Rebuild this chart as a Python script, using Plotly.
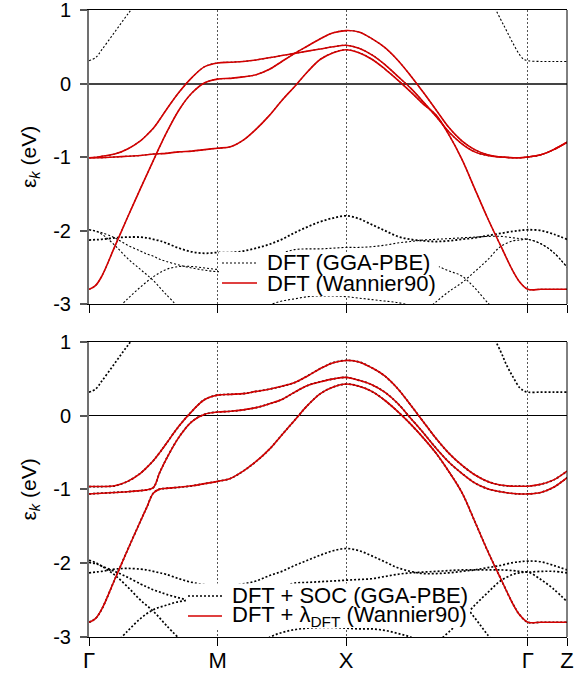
import plotly.graph_objects as go

# ---------------- data (k path coordinate, energies in eV) ----------------
K = [0.0, 0.05, 0.1, 0.2, 0.3, 0.4, 0.45, 0.5, 0.55, 0.6, 0.7, 0.8, 0.9, 1.0,
     1.1, 1.2, 1.3, 1.4, 1.5, 1.6, 1.7, 1.8, 1.9, 2.0,
     2.1, 2.2, 2.3, 2.4, 2.5, 2.6, 2.7, 2.8, 2.9, 3.0, 3.1, 3.2, 3.3, 3.35, 3.414,
     3.514, 3.614, 3.718]

K_TICKS = [0.0, 1.0, 2.0, 3.414, 3.718]
K_LABELS = ["Γ", "M", "X", "Γ", "Z"]
Y_TICKS = [-3, -2, -1, 0, 1]
Y_LABELS = ["-3", "-2", "-1", "0", "1"]

# --- top panel: DFT (GGA-PBE) / Wannier90 t2g bands
TOP_W1 = [-2.80, -2.75, -2.62, -2.22, -1.82, -1.43, -1.24, -1.05, -0.86, -0.68, -0.36, -0.13, 0.01, 0.06,
          0.07, 0.09, 0.12, 0.19, 0.30, 0.41, 0.51, 0.61, 0.69, 0.72,
          0.70, 0.61, 0.49, 0.32, 0.11, -0.12, -0.36, -0.60, -0.78, -0.90, -0.97, -1.00, -1.01, -1.01, -1.00,
          -0.97, -0.90, -0.80]
TOP_W2 = [-1.01, -1.005, -0.99, -0.96, -0.89, -0.78, -0.70, -0.61, -0.49, -0.36, -0.12, 0.08, 0.23, 0.28,
          0.29, 0.30, 0.32, 0.35, 0.38, 0.41, 0.44, 0.47, 0.50, 0.52,
          0.48, 0.39, 0.26, 0.10, -0.06, -0.25, -0.45, -0.66, -0.82, -0.93, -0.98, -1.00, -1.01, -1.01, -1.00,
          -0.97, -0.90, -0.80]
TOP_W3 = [-1.01, -1.01, -1.01, -1.00, -0.99, -0.98, -0.97, -0.96, -0.955, -0.95, -0.93, -0.92, -0.90, -0.88,
          -0.86, -0.77, -0.62, -0.44, -0.23, -0.04, 0.16, 0.33, 0.42, 0.46,
          0.42, 0.33, 0.20, 0.05, -0.11, -0.28, -0.43, -0.70, -1.03, -1.43, -1.83, -2.20, -2.56, -2.70, -2.80,
          -2.80, -2.80, -2.80]
TOP_D1 = [-2.13, -2.125, -2.12, -2.10, -2.09, -2.09, -2.10, -2.12, -2.14, -2.17, -2.24, -2.29, -2.31, -2.30,
          -2.30, -2.28, -2.24, -2.19, -2.12, -2.03, -1.95, -1.88, -1.83, -1.80,
          -1.84, -1.92, -2.00, -2.08, -2.12, -2.14, -2.15, -2.14, -2.12, -2.10, -2.07, -2.04, -2.01, -2.00, -1.99,
          -2.00, -2.05, -2.12]
TOP_D2 = [-1.99, -2.005, -2.03, -2.10, -2.20, -2.28, -2.32, -2.35, -2.39, -2.42, -2.47, -2.51, -2.54, -2.56,
          -2.55, -2.52, -2.46, -2.39, -2.31, -2.26, -2.25, -2.25, -2.24, -2.23,
          -2.23, -2.22, -2.20, -2.17, -2.15, -2.13, -2.12, -2.11, -2.10, -2.09, -2.08, -2.08, -2.10, -2.11, -2.12,
          -2.18, -2.30, -2.50]
D3_K = [0.0, 0.05, 0.1, 0.2, 0.3, 0.4, 0.5, 0.6, 0.7]
TOP_D3 = [-1.99, -2.01, -2.05, -2.20, -2.38, -2.53, -2.68, -2.87, -3.05]
D4_K = [0.2, 0.3, 0.4, 0.5, 0.6, 0.7, 0.8, 0.9, 1.0,
        1.1, 1.2, 1.3, 1.4, 1.5, 1.6, 1.7, 1.8, 1.9, 2.0,
        2.1, 2.2, 2.3, 2.4, 2.5, 2.6, 2.7, 2.8, 2.9, 3.0, 3.1, 3.2]
TOP_D4 = [-3.10, -2.93, -2.77, -2.63, -2.53, -2.49, -2.49, -2.51, -2.53,
          -2.53, -2.52, -2.50, -2.48, -2.46, -2.44, -2.43, -2.42, -2.41, -2.40,
          -2.40, -2.41, -2.42, -2.43, -2.44, -2.44, -2.48, -2.55, -2.62, -2.78, -2.98, -3.15]
F_K = [1.3, 1.4, 1.5, 1.6, 1.7, 1.8, 1.9, 2.0, 2.1, 2.2, 2.3, 2.4, 2.5, 2.6]
TOP_F = [-3.15, -3.02, -2.96, -2.93, -2.90, -2.89, -2.89, -2.90, -2.92, -2.94, -2.96, -2.98, -3.02, -3.08]
E2_K = [2.6, 2.7, 2.8, 2.9, 3.0, 3.1, 3.2, 3.3, 3.35, 3.414, 3.514, 3.614, 3.718]
TOP_E2 = [-3.12, -2.97, -2.83, -2.71, -2.56, -2.40, -2.22, -2.14, -2.13, -2.12, -2.18, -2.30, -2.50]
U1_K = [0.0, 0.05, 0.1, 0.2, 0.3, 0.4]
TOP_U1 = [0.31, 0.35, 0.46, 0.70, 0.94, 1.16]
U2_K = [3.1, 3.2, 3.25, 3.3, 3.35, 3.38, 3.414, 3.514, 3.614, 3.718]
TOP_U2 = [1.22, 0.88, 0.71, 0.54, 0.39, 0.33, 0.31, 0.30, 0.30, 0.30]

# --- bottom panel: DFT + SOC (GGA-PBE) / DFT + lambda_DFT (Wannier90)
BOT_W1 = [-0.96, -0.96, -0.96, -0.95, -0.89, -0.78, -0.70, -0.61, -0.50, -0.38, -0.14, 0.06, 0.22, 0.28,
          0.29, 0.30, 0.33, 0.36, 0.40, 0.45, 0.54, 0.64, 0.72, 0.75,
          0.73, 0.65, 0.54, 0.37, 0.15, -0.08, -0.31, -0.51, -0.67, -0.80, -0.89, -0.94, -0.955, -0.955, -0.955,
          -0.93, -0.87, -0.75]
BOT_W2 = [-1.06, -1.055, -1.05, -1.04, -1.03, -1.015, -1.005, -0.975, -0.77, -0.59, -0.29, -0.08, 0.02, 0.05,
          0.06, 0.08, 0.11, 0.16, 0.22, 0.32, 0.41, 0.46, 0.50, 0.52,
          0.48, 0.42, 0.32, 0.17, -0.03, -0.23, -0.44, -0.63, -0.78, -0.91, -0.99, -1.03, -1.055, -1.06, -1.06,
          -1.04, -0.97, -0.84]
BOT_W3 = [-2.80, -2.75, -2.62, -2.22, -1.82, -1.43, -1.24, -1.05, -0.995, -0.985, -0.97, -0.95, -0.92, -0.89,
          -0.85, -0.75, -0.62, -0.46, -0.26, -0.06, 0.14, 0.30, 0.39, 0.43,
          0.40, 0.33, 0.21, 0.06, -0.11, -0.30, -0.51, -0.76, -1.04, -1.43, -1.83, -2.20, -2.56, -2.70, -2.80,
          -2.80, -2.80, -2.80]
BOT_D1 = [-2.13, -2.12, -2.11, -2.08, -2.07, -2.08, -2.09, -2.11, -2.13, -2.15, -2.21, -2.26, -2.29, -2.30,
          -2.30, -2.28, -2.24, -2.17, -2.11, -2.03, -1.96, -1.89, -1.83, -1.80,
          -1.83, -1.90, -1.98, -2.06, -2.11, -2.14, -2.14, -2.13, -2.11, -2.09, -2.06, -2.03, -1.99, -1.98, -1.97,
          -1.98, -2.03, -2.09]
BOT_D2 = [-1.99, -2.005, -2.04, -2.11, -2.19, -2.28, -2.32, -2.36, -2.39, -2.42, -2.47, -2.51, -2.54, -2.55,
          -2.54, -2.51, -2.46, -2.39, -2.32, -2.27, -2.26, -2.25, -2.24, -2.23,
          -2.22, -2.21, -2.18, -2.15, -2.13, -2.12, -2.11, -2.10, -2.09, -2.09, -2.09, -2.09, -2.10, -2.11, -2.12,
          -2.11, -2.11, -2.13]
BOT_D3 = [-1.96, -1.99, -2.04, -2.16, -2.32, -2.50, -2.65, -2.84, -3.02]
BOT_D4 = [-3.10, -2.92, -2.75, -2.63, -2.57, -2.52, -2.50, -2.51, -2.53,
          -2.53, -2.52, -2.50, -2.48, -2.46, -2.44, -2.43, -2.42, -2.41, -2.40,
          -2.40, -2.41, -2.42, -2.43, -2.44, -2.44, -2.45, -2.48, -2.54, -2.74, -2.97, -3.18]
BOT_F = [-3.15, -3.01, -2.94, -2.90, -2.88, -2.87, -2.87, -2.88, -2.89, -2.89, -2.91, -2.95, -3.00, -3.08]
BOT_E2 = [-3.20, -3.08, -2.93, -2.76, -2.57, -2.40, -2.24, -2.15, -2.13, -2.12, -2.22, -2.35, -2.52]
BOT_U1 = [0.32, 0.36, 0.47, 0.71, 0.95, 1.17]
BOT_U2 = [1.22, 0.88, 0.68, 0.52, 0.38, 0.34, 0.32, 0.32, 0.32, 0.32]

for arr in (TOP_W1, TOP_W2, TOP_W3, TOP_D1, TOP_D2, BOT_W1, BOT_W2, BOT_W3, BOT_D1, BOT_D2):
    assert len(arr) == len(K)
assert len(TOP_D3) == len(D3_K) == len(BOT_D3)
assert len(TOP_D4) == len(D4_K) == len(BOT_D4)
assert len(TOP_F) == len(F_K) == len(BOT_F)
assert len(TOP_E2) == len(E2_K) == len(BOT_E2)

# ---------------- styling ----------------
FONT = "Liberation Sans, Arial, Helvetica, sans-serif"
RED = "#d40000"
DOT = "2px,2px"

fig = go.Figure()


def band(x, y, xa, ya, color, width, dash="solid"):
    fig.add_trace(go.Scatter(
        x=x, y=y, mode="lines", xaxis=xa, yaxis=ya,
        line=dict(color=color, width=width, dash=dash, shape="spline", smoothing=1.0),
        showlegend=False, hoverinfo="skip"))


# top panel (x2/y2)
for kk, ee, w in [(K, TOP_W1, 1.1), (K, TOP_W2, 1.1), (K, TOP_W3, 1.1),
                  (K, TOP_D1, 1.8), (K, TOP_D2, 1.1), (D3_K, TOP_D3, 1.1),
                  (D4_K, TOP_D4, 1.1), (F_K, TOP_F, 1.1), (E2_K, TOP_E2, 1.1),
                  (U1_K, TOP_U1, 1.1), (U2_K, TOP_U2, 1.1)]:
    band(kk, ee, "x2", "y2", "black", w, DOT)
for ee in (TOP_W1, TOP_W2, TOP_W3):
    band(K, ee, "x2", "y2", RED, 1.6)

# bottom panel (x/y)
for kk, ee in [(K, BOT_W1), (K, BOT_W2), (K, BOT_W3), (K, BOT_D1), (K, BOT_D2),
               (D3_K, BOT_D3), (D4_K, BOT_D4), (F_K, BOT_F), (E2_K, BOT_E2),
               (U1_K, BOT_U1), (U2_K, BOT_U2)]:
    band(kk, ee, "x", "y", "black", 1.7, DOT)
for ee in (BOT_W1, BOT_W2, BOT_W3):
    band(K, ee, "x", "y", RED, 1.6)

xcommon = dict(range=[0, K_TICKS[-1]], tickvals=K_TICKS, ticktext=K_LABELS,
               ticks="outside", ticklen=8, tickwidth=1, tickcolor="black",
               showline=True, linecolor="black", linewidth=1, mirror=True,
               showgrid=True, gridcolor="#555555", gridwidth=1, griddash=DOT,
               zeroline=False, fixedrange=True, automargin=False,
               ticklabeloverflow="allow", ticklabelstandoff=-4,
               tickfont=dict(family=FONT, size=22, color="black"))
ycommon = dict(range=[-3, 1], tickvals=Y_TICKS, ticktext=Y_LABELS,
               ticks="outside", ticklen=7, tickwidth=1.5, tickcolor="#555555",
               showline=True, linecolor="#707070", linewidth=2, mirror=False,
               showgrid=False, zeroline=True, fixedrange=True, automargin=False,
               ticklabeloverflow="allow", ticklabelstandoff=5,
               tickfont=dict(family=FONT, size=20, color="black"))

TOP_DOM = [0.5311, 1.0]
BOT_DOM = [0.0, 0.4705]

fig.update_layout(
    width=588, height=675,
    margin=dict(l=89, r=21, t=10, b=38, autoexpand=False),
    paper_bgcolor="white", plot_bgcolor="white",
    font=dict(family=FONT, size=20, color="black"),
    xaxis=dict(xcommon, anchor="y", domain=[0, 1], showticklabels=True),
    yaxis=dict(ycommon, anchor="x", domain=BOT_DOM, zerolinecolor="black", zerolinewidth=1.2),
    xaxis2=dict(xcommon, anchor="y2", domain=[0, 1], matches="x", showticklabels=False),
    yaxis2=dict(ycommon, anchor="x2", domain=TOP_DOM, zerolinecolor="#444444", zerolinewidth=1.6),
    showlegend=False,
)

shapes = []
annotations = []
# right borders
for xr, yr in (("x domain", "y domain"), ("x2 domain", "y2 domain")):
    shapes.append(dict(type="line", xref=xr, yref=yr, x0=1, x1=1, y0=0, y1=1,
                       line=dict(color="black", width=1), layer="above"))

# manual legends (white boxes with samples and text)
legends = [
    ("x2 domain", "y2 domain", (0.272, 0.732, 0.027, 0.177), (0.2782, 0.3515), 0.3682,
     [(0.1395, "DFT (GGA-PBE)", "black", DOT, 1.2), (0.0714, "DFT (Wannier90)", RED, "solid", 1.6)]),
    ("x domain", "y domain", (0.2029, 0.7971, 0.0305, 0.1814), (0.2071, 0.2782), 0.2950,
     [(0.1390, "DFT + SOC (GGA-PBE)", "black", DOT, 1.4),
      (0.0712, "DFT + λ<sub>DFT</sub> (Wannier90)", RED, "solid", 1.6)]),
]
for xr, yr, box, sx, tx, rows in legends:
    shapes.append(dict(type="rect", xref=xr, yref=yr, x0=box[0], x1=box[1], y0=box[2], y1=box[3],
                       fillcolor="white", line=dict(width=0), layer="above"))
    for yy, txt, col, dash, w in rows:
        shapes.append(dict(type="line", xref=xr, yref=yr, x0=sx[0], x1=sx[1], y0=yy, y1=yy,
                           line=dict(color=col, width=w, dash=dash), layer="above"))
        annotations.append(dict(xref=xr, yref=yr, x=tx, y=yy, text=txt, showarrow=False,
                                xanchor="left", yanchor="middle",
                                font=dict(family=FONT, size=22, color="black")))

# y axis titles
for yc in (sum(TOP_DOM) / 2, sum(BOT_DOM) / 2):
    annotations.append(dict(xref="paper", yref="paper", x=-0.1234, y=yc,
                            text="ε<sub><i>k</i></sub> (eV)", textangle=-90, showarrow=False,
                            xanchor="center", yanchor="middle",
                            font=dict(family=FONT, size=21, color="black")))

fig.update_layout(shapes=shapes, annotations=annotations)
fig.write_html("out.html")
